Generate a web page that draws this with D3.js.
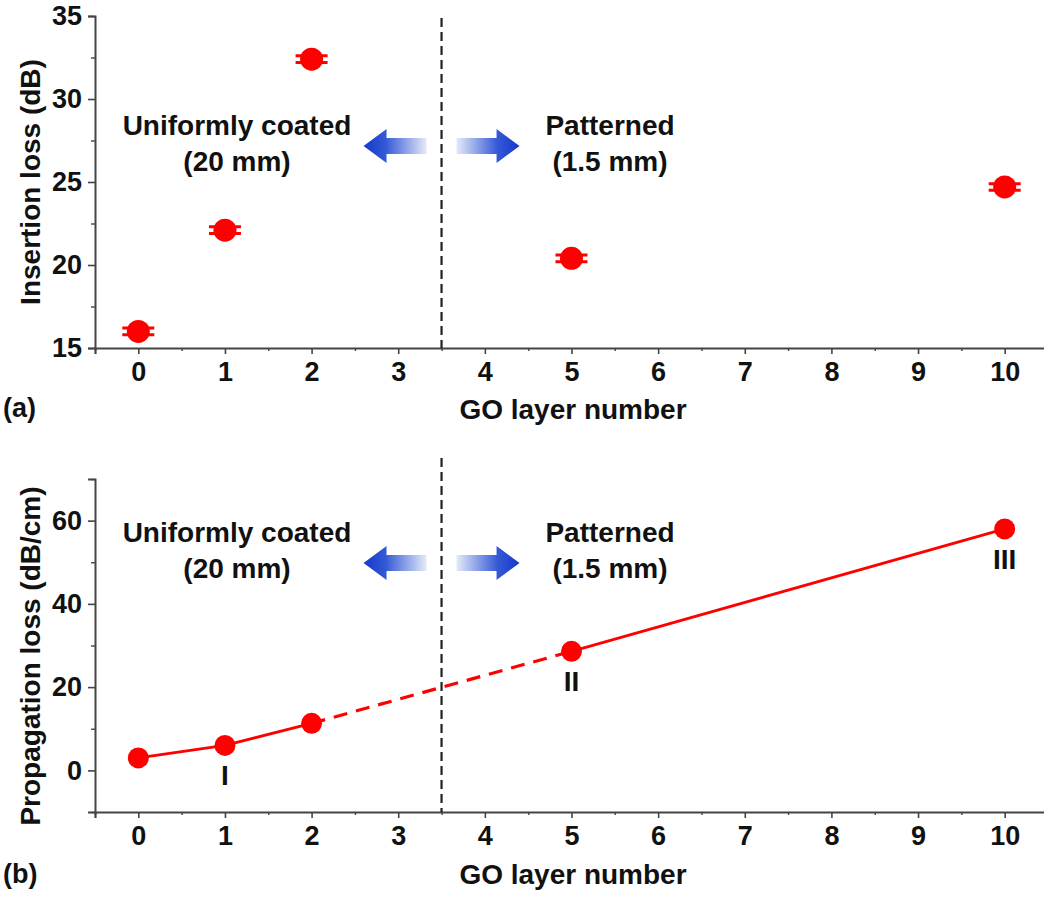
<!DOCTYPE html>
<html><head><meta charset="utf-8">
<script src="https://cdn.jsdelivr.net/npm/d3@7"></script>
<style>
html,body{margin:0;padding:0;background:#fff;}
svg{display:block;}
text{font-family:"Liberation Sans",Arial,sans-serif;font-weight:bold;fill:#111;}
</style></head>
<body>
<svg id="c" width="1044" height="897"></svg>
<script>
// ---- data ----
const layers = [0, 1, 2, 5, 10];
const insertionLoss = [16.0, 22.1, 32.4, 20.4, 24.7];
const insertionErr = [0.2, 0.2, 0.2, 0.2, 0.2];
const propagationLoss = [3.0, 6.0, 11.3, 28.6, 58.0];
const pointLabels = ["", "I", "", "II", "III"];
const xTicks = [0, 1, 2, 3, 4, 5, 6, 7, 8, 9, 10];
const topYTicks = [15, 20, 25, 30, 35];
const botYTicks = [0, 20, 40, 60];
const boundary = 3.5;
const leftText = ["Uniformly coated", "(20 mm)"];
const rightText = ["Patterned", "(1.5 mm)"];

const svg = d3.select("#c");
const x = d3.scaleLinear().domain([-0.5, 10.5]).range([95, 1048]);
const yTop = d3.scaleLinear().domain([15, 35]).range([348, 16]);
const yBot = d3.scaleLinear().domain([-10, 70]).range([812, 479]);

const defs = svg.append("defs");
function grad(id, x1, x2) {
  const g = defs.append("linearGradient").attr("id", id)
    .attr("x1", x1).attr("x2", x2).attr("y1", 0).attr("y2", 0);
  g.append("stop").attr("offset", "0%").attr("stop-color", "#1638cc");
  g.append("stop").attr("offset", "35%").attr("stop-color", "#3459d6");
  g.append("stop").attr("offset", "100%").attr("stop-color", "#e4eaf8");
}
grad("gl", 0, 1); // left arrow: tip on left
grad("gr", 1, 0); // right arrow: tip on right

function axes(y, yTicks, yMinor, yLabel, panelLabel, xLabelY, panelY, labelCenterY) {
  const axColor = "#444";
  const xa = svg.append("g").attr("transform", `translate(0,${y.range()[0]})`)
    .call(d3.axisBottom(x).tickValues(xTicks).tickSize(6).tickPadding(8).tickFormat(d3.format("d")));
  xa.select(".domain").attr("stroke", axColor).attr("stroke-width", 2.2);
  xa.selectAll(".tick line").attr("stroke", axColor).attr("stroke-width", 1.6);
  xa.selectAll(".tick text").attr("font-size", 27).attr("fill", "#111").attr("font-family", "Liberation Sans, Arial").attr("font-weight", "bold");
  const xm = svg.append("g").attr("transform", `translate(0,${y.range()[0]})`)
    .call(d3.axisBottom(x).tickValues(d3.range(-0.5, 10.6, 1)).tickSize(3).tickFormat(""));
  xm.select(".domain").remove();
  xm.selectAll(".tick line").attr("stroke", axColor).attr("stroke-width", 1.4);
  const ya = svg.append("g").attr("transform", `translate(${x.range()[0]},0)`)
    .call(d3.axisLeft(y).tickValues(yTicks).tickSize(7).tickPadding(6).tickFormat(d3.format("d")));
  ya.select(".domain").attr("stroke", axColor).attr("stroke-width", 2);
  ya.selectAll(".tick line").attr("stroke", axColor).attr("stroke-width", 1.6);
  ya.selectAll(".tick text").attr("font-size", 27).attr("fill", "#111").attr("font-family", "Liberation Sans, Arial").attr("font-weight", "bold");
  const ym = svg.append("g").attr("transform", `translate(${x.range()[0]},0)`)
    .call(d3.axisLeft(y).tickValues(yMinor).tickSize(4).tickFormat(""));
  ym.select(".domain").remove();
  ym.selectAll(".tick line").attr("stroke", axColor).attr("stroke-width", 1.4);
  svg.append("text").attr("x", 573).attr("y", xLabelY).attr("text-anchor", "middle")
    .attr("font-size", 28).text("GO layer number");
  svg.append("text").attr("x", 3).attr("y", panelY).attr("font-size", 27).text(panelLabel);
  svg.append("text").attr("transform", `translate(40,${labelCenterY}) rotate(-90)`)
    .attr("text-anchor", "middle").attr("font-size", 28).text(yLabel);
  svg.append("line").attr("x1", x(boundary)).attr("x2", x(boundary))
    .attr("y1", y.range()[1] + (y === yBot ? -21 : 2)).attr("y2", y.range()[0])
    .attr("stroke", "#222").attr("stroke-width", 2.2).attr("stroke-dasharray", "9,5");
}

function annotations(textY, arrowY) {
  svg.append("text").attr("x", 237).attr("y", textY).attr("text-anchor", "middle").attr("font-size", 28).text(leftText[0]);
  svg.append("text").attr("x", 237).attr("y", textY + 36).attr("text-anchor", "middle").attr("font-size", 28).text(leftText[1]);
  svg.append("text").attr("x", 610).attr("y", textY).attr("text-anchor", "middle").attr("font-size", 28).text(rightText[0]);
  svg.append("text").attr("x", 610).attr("y", textY + 36).attr("text-anchor", "middle").attr("font-size", 28).text(rightText[1]);
  const bx = x(boundary);
  const hl = 23, hh = 17, sh = 8;
  const lt = bx - 78, ltail = bx - 15;
  svg.append("path").attr("fill", "url(#gl)")
    .attr("d", `M${lt},${arrowY} L${lt + hl},${arrowY - hh} L${lt + hl},${arrowY - sh} L${ltail},${arrowY - sh} L${ltail},${arrowY + sh} L${lt + hl},${arrowY + sh} L${lt + hl},${arrowY + hh} Z`);
  const rt = bx + 78, rtail = bx + 15;
  svg.append("path").attr("fill", "url(#gr)")
    .attr("d", `M${rt},${arrowY} L${rt - hl},${arrowY - hh} L${rt - hl},${arrowY - sh} L${rtail},${arrowY - sh} L${rtail},${arrowY + sh} L${rt - hl},${arrowY + sh} L${rt - hl},${arrowY + hh} Z`);
}

// ---- panel (a) ----
axes(yTop, topYTicks, [17.5, 22.5, 27.5, 32.5], "Insertion loss (dB)", "(a)", 419, 417, 182);
annotations(135, 146);
const ptsA = layers.map((l, i) => ({l, v: insertionLoss[i], e: insertionErr[i]}));
const gA = svg.append("g");
gA.selectAll("line.bar").data(ptsA).join("line").attr("class", "bar")
  .attr("x1", d => x(d.l)).attr("x2", d => x(d.l))
  .attr("y1", d => yTop(d.v + d.e)).attr("y2", d => yTop(d.v - d.e))
  .attr("stroke", "#ff0000").attr("stroke-width", 2);
gA.selectAll("line.cap").data(ptsA.flatMap(d => [{l: d.l, v: d.v + d.e}, {l: d.l, v: d.v - d.e}])).join("line")
  .attr("class", "cap")
  .attr("x1", d => x(d.l) - 16).attr("x2", d => x(d.l) + 16)
  .attr("y1", d => yTop(d.v)).attr("y2", d => yTop(d.v))
  .attr("stroke", "#ff0000").attr("stroke-width", 3);
gA.selectAll("circle").data(ptsA).join("circle")
  .attr("cx", d => x(d.l)).attr("cy", d => yTop(d.v)).attr("r", 11.5).attr("fill", "#ff0000");

// ---- panel (b) ----
axes(yBot, botYTicks, [-10, 10, 30, 50, 70], "Propagation loss (dB/cm)", "(b)", 884, 883, 656);
annotations(542, 563);
const ptsB = layers.map((l, i) => ({l, v: propagationLoss[i], lab: pointLabels[i]}));
const line = d3.line().x(d => x(d.l)).y(d => yBot(d.v));
svg.append("path").attr("d", line(ptsB.slice(0, 3))).attr("fill", "none").attr("stroke", "#ff0000").attr("stroke-width", 3);
svg.append("path").attr("d", line(ptsB.slice(2, 4))).attr("fill", "none").attr("stroke", "#ff0000").attr("stroke-width", 3.2).attr("stroke-dasharray", "14,9");
svg.append("path").attr("d", line(ptsB.slice(3, 5))).attr("fill", "none").attr("stroke", "#ff0000").attr("stroke-width", 2.8);
svg.append("g").selectAll("circle").data(ptsB).join("circle")
  .attr("cx", d => x(d.l)).attr("cy", d => yBot(d.v)).attr("r", 10.5).attr("fill", "#ff0000");
svg.append("g").selectAll("text").data(ptsB).join("text")
  .attr("x", d => x(d.l)).attr("y", d => yBot(d.v) + 40).attr("text-anchor", "middle")
  .attr("font-size", 28).text(d => d.lab);
</script>
</body></html>
